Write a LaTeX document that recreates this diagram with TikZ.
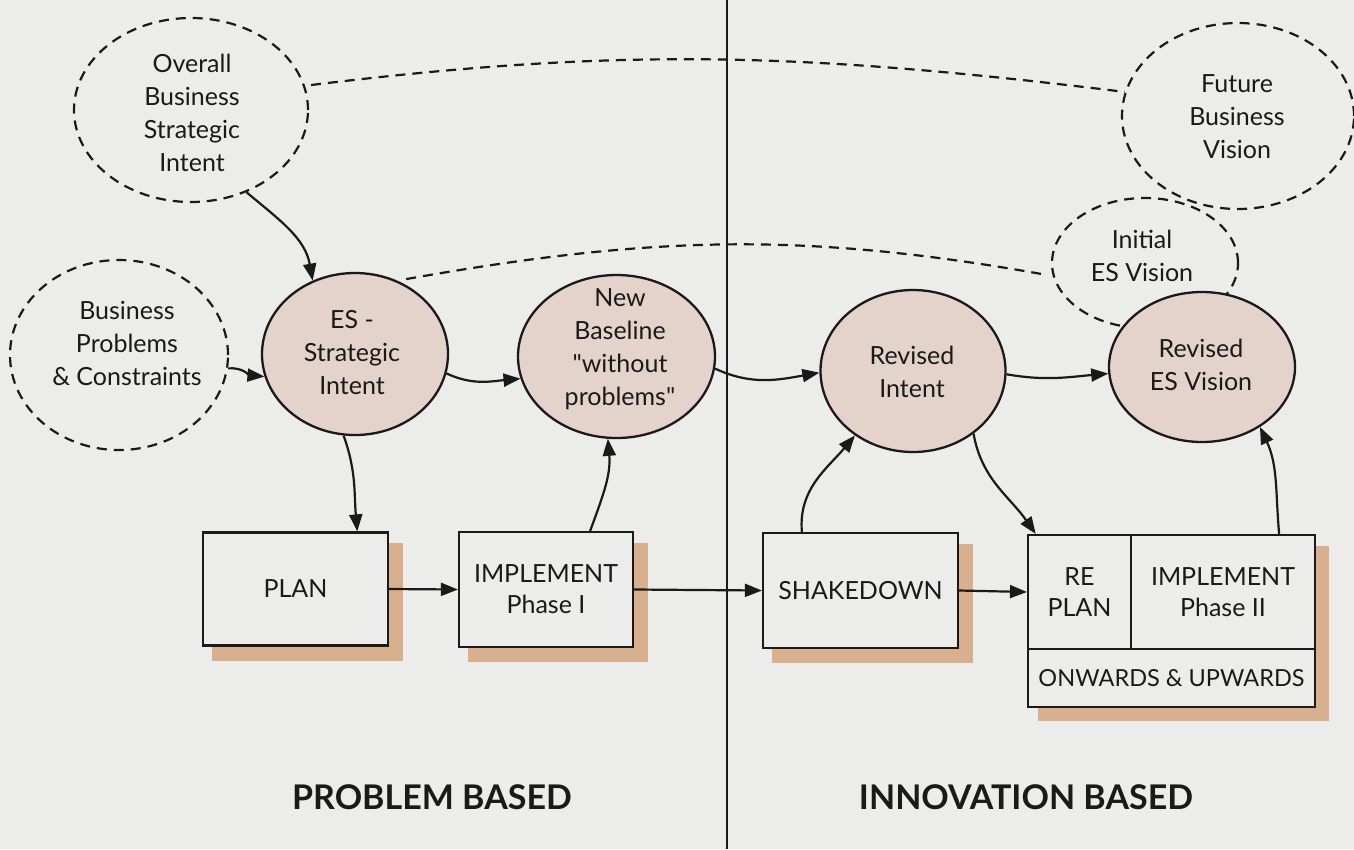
\documentclass[tikz,border=0pt]{standalone}
\usepackage{fontspec}
\setmainfont{Lato}[Ligatures=TeXOff]
\usetikzlibrary{shapes.geometric,arrows.meta,calc}
\definecolor{bgc}{HTML}{ECECEA}
\definecolor{circc}{HTML}{E3D3CB}
\definecolor{shadc}{HTML}{D9B08E}
\definecolor{inkc}{HTML}{1A1A1A}
\pgfdeclarelayer{bglayer}
\pgfdeclarelayer{shlayer}
\pgfsetlayers{bglayer,shlayer,main}
\tikzset{
  txt/.style={font=\fontsize{25}{33}\selectfont, text=inkc, align=center, inner sep=0pt},
  dell/.style={ellipse, draw=inkc, line width=2.2pt, dash pattern=on 10pt off 7pt, inner sep=0pt},
  circ/.style={ellipse, draw=inkc, fill=circc, line width=2.3pt, inner sep=0pt},
  boxn/.style={rectangle, draw=inkc, fill=bgc, line width=2.2pt, inner sep=0pt, font=\fontsize{25}{31}\selectfont, text=inkc, align=center},
  conn/.style={draw=inkc, line width=2.2pt, -{Triangle[length=17pt,width=13pt]}},
  dconn/.style={draw=inkc, line width=2.2pt, dash pattern=on 10pt off 7pt},
  lab/.style={font=\bfseries\fontsize{34}{40}\selectfont, text=inkc, inner sep=0pt},
}
\begin{document}
\begin{tikzpicture}[x=1pt,y=-1pt]
\begin{pgfonlayer}{bglayer}
\fill[bgc] (0,0) rectangle (1354,849);
\end{pgfonlayer}
\useasboundingbox (0,0) rectangle (1354,849);

% divider
\coordinate (divtop) at (727,0);
\coordinate (divbot) at (727,849);
\draw[inkc, line width=2pt] (divtop) -- (divbot);

% dashed ellipses
\node[dell, minimum width=234, minimum height=184] (ov) at (191,110) {};
\node[dell, minimum width=218, minimum height=190] (bp) at (119,355) {};
\node[dell, minimum width=232, minimum height=186] (fbv) at (1238,116) {};
\node[dell, minimum width=186, minimum height=130] (iev) at (1145,263) {};

% filled circles
\node[circ, minimum width=186, minimum height=162] (es) at (355,354) {};
\node[circ, minimum width=197, minimum height=163] (nb) at (616.5,356.5) {};
\node[circ, minimum width=185, minimum height=162] (ri) at (913,371) {};
\node[circ, minimum width=186, minimum height=150] (resv) at (1202,367) {};

% texts of ellipses
\node[txt] (tov) at (192,113) {Overall\\Business\\Strategic\\Intent};
\node[txt] (tbp) at (127,343) {Business\\Problems\\\& Constraints};
\node[txt] (tfbv) at (1237,117) {Future\\Business\\Vision};
\node[txt] (tiev) at (1142,256) {Initial\\ES Vision};
\node[txt] (tes) at (352,353) {ES -\\Strategic\\Intent};
\node[txt] (tnb) at (620,349) {New\\Baseline\\"without\\problems"};
\node[txt] (tri) at (912,372) {Revised\\Intent};
\node[txt] (tresv) at (1201,365) {Revised\\ES Vision};

% boxes
\node[boxn, minimum width=185, minimum height=113] (plan) at (295.5,589) {PLAN};
\node[boxn, minimum width=174, minimum height=115] (imp1) at (546,589.5) {IMPLEMENT\\Phase I};
\node[boxn, minimum width=195, minimum height=115] (sd) at (860.5,590.5) {SHAKEDOWN};
\node[boxn, minimum width=103, minimum height=114] (replan) at (1079.5,592) {RE\\PLAN};
\node[boxn, minimum width=184, minimum height=114] (imp2) at (1223,592) {IMPLEMENT\\Phase II};
\node[boxn, minimum width=287, minimum height=58, font=\fontsize{23.5}{29}\selectfont] (onw) at (1171.5,678) {ONWARDS \& UPWARDS};

\begin{pgfonlayer}{shlayer}
\foreach \n in {plan,imp1,sd} \fill[shadc] ($(\n.north west)+(10,12)$) rectangle ($(\n.south east)+(14,14)$);
\fill[shadc] ($(replan.north west)+(11,12)$) rectangle ($(onw.south east)+(13,13)$);
\end{pgfonlayer}

% connectors
\draw[conn] (ov.-56) to[out=-40,in=100] (es.120);
\draw[conn] (bp.-7) to[out=5,in=175] (es.-166);
\draw[conn] (es.-12) to[out=-25,in=185] (nb.-167);
\draw[conn] (es.-98) to[out=-70,in=95] (plan.43);
\draw[conn] (plan.east) -- (imp1.west);
\draw[conn] (imp1.53) to[out=70,in=-85] (nb.-96);
\draw[conn] (imp1.east) -- (sd.west);
\draw[conn] (nb.-7) to[out=-25,in=190] (ri.181);
\draw[conn] (ri.-2) to[out=-10,in=185] (resv.184);
\draw[conn] (sd.135) to[out=95,in=-130] (ri.-132);
\draw[conn] (ri.-46) to[out=-80,in=125] (replan.127);
\draw[conn] (sd.east) -- (replan.west);
\draw[conn] (imp2.46) to[out=95,in=-65] (resv.-46);

% dashed links
\draw[dconn, shorten <=6pt] (ov.12) to[out=7,in=173] (fbv.168);
\draw[dconn, shorten <=9pt, shorten >=12pt] (es.60) to[out=10,in=170] (iev.188);

% bottom labels
\node[lab] (lpb) at (432,797) {PROBLEM BASED};
\node[lab] (lib) at (1026,797) {INNOVATION BASED};
\end{tikzpicture}
\end{document}
